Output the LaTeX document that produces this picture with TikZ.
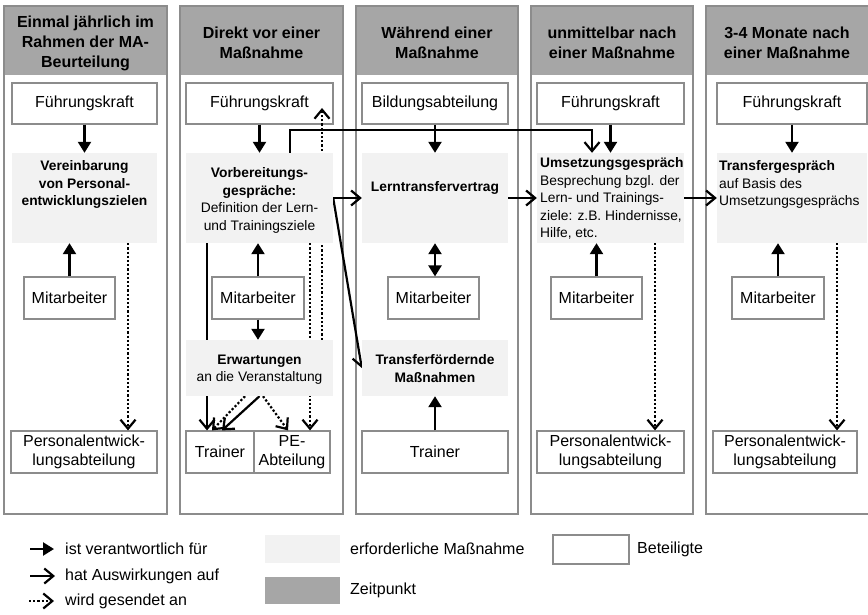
\documentclass[tikz,border=0pt]{standalone}
\usepackage{fontspec}
\setmainfont{Liberation Sans}
\usetikzlibrary{arrows.meta}
\pgfdeclarelayer{background}
\pgfdeclarelayer{foreground}
\pgfsetlayers{background,main,foreground}

\definecolor{headgray}{RGB}{166,166,166}
\definecolor{taskgray}{RGB}{242,242,242}
\definecolor{framegray}{RGB}{140,140,140}

\tikzset{
  dims/.style 2 args={minimum width=#1pt, minimum height=#2pt},
  panelframe/.style={draw=framegray, line width=1.2pt},
  person/.style={draw=framegray, line width=1.2pt, fill=white, inner sep=0pt,
    align=center, font=\fontsize{16}{19}\selectfont},
  task/.style={fill=taskgray, inner sep=0pt},
  tasktext/.style={inner sep=0pt, font=\fontsize{13.8}{17.5}\selectfont},
  headtext/.style={inner sep=0pt, align=center, font=\fontsize{16}{20}\selectfont\bfseries},
  legtext/.style={inner sep=0pt, font=\fontsize{16}{19}\selectfont},
  resp/.style={line width=2.4pt, -{Triangle[length=11pt,width=13pt]}},
  respboth/.style={line width=2.4pt, {Triangle[length=11pt,width=13pt]}-{Triangle[length=11pt,width=13pt]}},
  effect/.style={line width=2.2pt, -{Straight Barb[length=9pt,width=15pt]}},
  sent/.style={line width=2.2pt, dash pattern=on 2.2pt off 2pt, -{Straight Barb[length=9pt,width=15pt]}},
}

\begin{document}
\begin{tikzpicture}[x=1pt,y=-1pt]
\useasboundingbox (0,0) rectangle (868,615);
\clip (0,0) rectangle (868,615);

% ---- time columns ----
\begin{pgfonlayer}{background}
  \foreach \x/\w in {4/163,180/163,356/162,531/162,706/163}{
    \fill[headgray] (\x,6) rectangle ++(\w,69);
    \draw[panelframe] (\x,6) rectangle ++(\w,508);
  }
\end{pgfonlayer}

\node[headtext] (h1) at (85.5,43.5) {Einmal jährlich im\\Rahmen der MA-\\Beurteilung};
\node[headtext] (h2) at (261.5,42.5) {Direkt vor einer\\Maßnahme};
\node[headtext] (h3) at (437,42.5) {Während einer\\Maßnahme};
\node[headtext] (h4) at (612,42.5) {unmittelbar nach\\einer Maßnahme};
\node[headtext] (h5) at (787,42.5) {3-4 Monate nach\\einer Maßnahme};

% ---- participants ----
\node[person, dims={145}{41}] (fk1) at (84.5,103.5) {Führungskraft};
\node[person, dims={91}{42}] (ma1) at (69.5,298) {Mitarbeiter};
\node[person, dims={146}{42}] (pe1) at (84,452) {Personalentwick-\\lungsabteilung};

\node[person, dims={147}{41}] (fk2) at (259.5,103.5) {Führungskraft};
\node[person, dims={92}{42}] (ma2) at (258,298) {Mitarbeiter};
\node[person, dims={68}{42}] (trainer) at (220,452) {Trainer};
\node[person, dims={76}{42}] (peabt) at (292,452) {PE-\\Abteilung};

\node[person, dims={146}{41}] (bild) at (435,103.5) {Bildungsabteilung};
\node[person, dims={91}{42}] (ma3) at (433.5,298) {Mitarbeiter};
\node[person, dims={146}{42}] (trainer3) at (435,452) {Trainer};

\node[person, dims={147}{41}] (fk4) at (610.5,103.5) {Führungskraft};
\node[person, dims={91}{42}] (ma4) at (596.5,298) {Mitarbeiter};
\node[person, dims={147}{42}] (pe4) at (610.5,452) {Personalentwick-\\lungsabteilung};

\node[person, dims={150}{41}] (fk5) at (792,103.5) {Führungskraft};
\node[person, dims={92}{42}] (ma5) at (778,298) {Mitarbeiter};
\node[person, dims={144}{42}] (pe5) at (785,452) {Personalentwick-\\lungsabteilung};

% ---- required measures (drawn above the connectors) ----
\begin{pgfonlayer}{foreground}
  \node[task, dims={145}{90}] (vereinb) at (84.5,198) {};
  \node[tasktext, align=center, anchor=north] (vereinbT) at (84.5,160.5)
    {\textbf{Vereinbarung}\\\textbf{von Personal-}\\\textbf{entwicklungszielen}};

  \node[task, dims={147}{90}] (vorb) at (259.5,198) {};
  \node[tasktext, align=center, anchor=north] (vorbT) at (259.5,167.5)
    {\textbf{Vorbereitungs-}\\\textbf{gespräche:}\\Definition der Lern-\\und Trainingsziele};

  \node[task, dims={147}{56}] (erw) at (259.5,368) {};
  \node[tasktext, align=center, anchor=north] (erwT) at (259.5,354.5)
    {\textbf{Erwartungen}\\an die Veranstaltung};

  \node[task, dims={146}{90}] (lern) at (435,198) {};
  \node[tasktext] (lernT) at (435,188) {\textbf{Lerntransfervertrag}};

  \node[task, dims={146}{56}] (transf) at (435,368) {};
  \node[tasktext, align=center, anchor=north] (transfT) at (435,354.5)
    {\textbf{Transferfördernde}\\\textbf{Maßnahmen}};

  \node[task, dims={147}{90}] (umsetz) at (610.5,198) {};
  \node[tasktext, align=left, anchor=north west] (umsetzT) at (540,157.5)
    {\textbf{Umsetzungsgespräch}\\Besprechung bzgl. der\\Lern- und Trainings-\\ziele: z.B. Hindernisse,\\Hilfe, etc.};

  \node[task, dims={150}{90}] (transg) at (792,198) {};
  \node[tasktext, align=left, anchor=north west] (transgT) at (719,160.5)
    {\textbf{Transfergespräch}\\auf Basis des\\Umsetzungsgesprächs};
\end{pgfonlayer}

\coordinate (fk2tip) at (322,108);
\coordinate (toprail) at (0,130);

% ---- column 1 ----
\draw[resp] (fk1) -- (vereinb);
\draw[resp] (ma1) -- (ma1 |- vereinb.south);
\draw[sent] ([xshift=43.5pt]vereinb.south) -- ([xshift=43.5pt]vereinb.south |- pe1.north);

% ---- column 2 ----
\draw[resp] (fk2) -- (vorb);
\draw[resp] (ma2) -- (ma2 |- vorb.south);
\draw[resp] (ma2) -- (ma2 |- erw.north);
\draw[sent] (erw.north -| fk2tip) -- (fk2tip);
\draw[sent] ([xshift=18pt]peabt.north |- vorb.south) -- ([xshift=18pt]peabt.north);
\draw[effect] ([xshift=-13pt]trainer.north |- vorb.south) -- ([xshift=-13pt]trainer.north);
\draw[sent] ([xshift=-14.5pt]erw.south) -- ([xshift=-8pt]trainer.north);
\draw[effect] (erw.south) -- ([xshift=2pt]trainer.north);
\draw[sent] ([xshift=3.5pt]erw.south) -- ([xshift=-4pt]peabt.north);
\draw[effect] (vorb.east) -- (lern.west);
\draw[effect] (vorb.east) -- (transf.west);
\draw[effect] ([xshift=30.5pt]vorb.north) |- ([xshift=-18.5pt]umsetz.north |- toprail)
  -- ([xshift=-18.5pt]umsetz.north);

% ---- column 3 ----
\draw[resp] (bild) -- (lern);
\draw[respboth] (lern.south) -- (lern.south |- ma3.north);
\draw[resp] (trainer3) -- (transf);
\draw[effect] (lern.east) -- (umsetz.west);

% ---- column 4 ----
\draw[resp] (fk4) -- (umsetz);
\draw[resp] (ma4) -- (ma4 |- umsetz.south);
\draw[sent] ([xshift=44.5pt]umsetz.south) -- ([xshift=44.5pt]umsetz.south |- pe4.north);
\draw[effect] (umsetz.east) -- (transg.west);

% ---- column 5 ----
\draw[resp] (fk5) -- (transg);
\draw[resp] (ma5) -- (ma5 |- transg.south);
\draw[sent] ([xshift=45pt]transg.south) -- ([xshift=45pt]transg.south |- pe5.north);

% ---- legend ----
\node[legtext, anchor=west] (lt1) at (65,549) {ist verantwortlich für};
\node[legtext, anchor=west] (lt2) at (65,576) {hat Auswirkungen auf};
\node[legtext, anchor=west] (lt3) at (65,601) {wird gesendet an};
\draw[resp] ([xshift=-35pt]lt1.west) -- ([xshift=-11pt]lt1.west);
\draw[effect] ([xshift=-35pt]lt2.west) -- ([xshift=-10pt]lt2.west);
\draw[sent] ([xshift=-36pt]lt3.west) -- ([xshift=-11pt]lt3.west);

\node[task, dims={75}{28}] (legtask) at (302.5,549) {};
\node[legtext, anchor=west] (legtaskT) at (350,549) {erforderliche Maßnahme};
\node[fill=headgray, inner sep=0pt, dims={75}{27}] (legtime) at (302.5,590.5) {};
\node[legtext, anchor=west] (legtimeT) at (350,590) {Zeitpunkt};
\node[person, dims={76}{29}] (legpart) at (591,549.5) {};
\node[legtext, anchor=west] (legpartT) at (637,549) {Beteiligte};
\end{tikzpicture}
\end{document}
